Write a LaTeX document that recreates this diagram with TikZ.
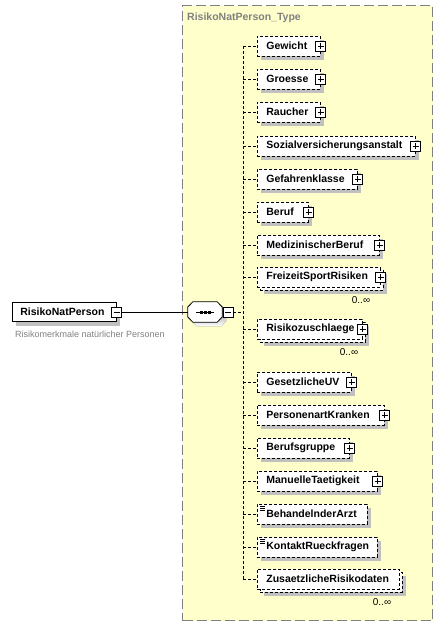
\documentclass[tikz,border=0pt]{standalone}
\usepackage{fontspec}
\setmainfont{Liberation Sans}
\usetikzlibrary{shadows, calc}
\definecolor{typefill}{RGB}{255,255,204}
\definecolor{typeline}{RGB}{128,128,128}
\definecolor{shade}{RGB}{192,192,192}
\definecolor{greytext}{RGB}{128,128,128}

\begin{document}
\begin{tikzpicture}[x=1pt, y=-1pt,
  labelfont/.style={font=\fontsize{10.5}{12}\selectfont\bfseries},
  typebox/.style={draw=typeline, fill=typefill, line width=1.2pt, dash pattern=on 10pt off 4pt, inner sep=0pt, anchor=north west},
  elemtop/.style={draw, line width=0.8pt, dash pattern=on 3pt off 2pt, fill=white, minimum height=20pt, inner xsep=9pt, inner ysep=0pt, anchor=west, labelfont},
  elem/.style={elemtop, drop shadow={shadow xshift=4pt, shadow yshift=-4pt, fill=shade, opacity=1}},
  root/.style={elem, solid, inner xsep=8pt, minimum height=19pt},
  expander/.style={draw, solid, line width=0.8pt, fill=white, minimum size=10pt, inner sep=0pt},
  plus/.style={expander, path picture={
    \draw[line width=0.8pt] ([xshift=2pt]path picture bounding box.west) -- ([xshift=-2pt]path picture bounding box.east);
    \draw[line width=0.8pt] ([yshift=-2pt]path picture bounding box.north) -- ([yshift=2pt]path picture bounding box.south);}},
  minus/.style={expander, path picture={
    \draw[line width=0.8pt] ([xshift=2pt]path picture bounding box.west) -- ([xshift=-2pt]path picture bounding box.east);}},
  compositor/.style={minimum width=34pt, minimum height=20pt, inner sep=0pt},
  conn/.style={line width=0.8pt, dash pattern=on 3pt off 2pt},
  occ/.style={font=\fontsize{10}{11}\selectfont, inner sep=0pt},
  greylabel/.style={text=greytext, anchor=west, inner sep=0pt}]

\useasboundingbox (0,0) rectangle (443,626);

% complex type frame
\node[typebox, minimum width=250pt, minimum height=615pt] (typeframe) at (182,5) {};
\node[greylabel, labelfont] (typetitle) at (187,18) {RisikoNatPerson\_Type};

% root element
\node[root] (root) at (12,312) {\makebox[88pt][l]{RisikoNatPerson}};
\node[minus] (rootminus) at (root.east) {};
\node[greylabel, font=\fontsize{9}{10}\selectfont] (rootdesc) at (15,334) {Risikomerkmale natürlicher Personen};

% sequence
\node[compositor] (seq) at (205,312) {};
\fill[shade] ($(seq.north west)+(9,4)$) -- ($(seq.north east)+(-1,4)$) -- ($(seq.east)+(4,-1)$)
  -- ($(seq.east)+(4,9)$) -- ($(seq.south east)+(-1,4)$) -- ($(seq.south west)+(9,4)$)
  -- ($(seq.west)+(4,9)$) -- ($(seq.west)+(4,-1)$) -- cycle;
\draw[line width=0.8pt, fill=white] ($(seq.north west)+(5,0)$) -- ($(seq.north east)+(-5,0)$) -- ($(seq.east)+(0,-5)$)
  -- ($(seq.east)+(0,5)$) -- ($(seq.south east)+(-5,0)$) -- ($(seq.south west)+(5,0)$)
  -- ($(seq.west)+(0,5)$) -- ($(seq.west)+(0,-5)$) -- cycle;
\draw[line width=0.8pt] ($(seq.center)+(-9,0)$) -- ($(seq.center)+(9,0)$);
\foreach \dx in {-4,0,4}
  \fill ($(seq.center)+(\dx-1.5,-1.5)$) rectangle ($(seq.center)+(\dx+1.5,1.5)$);
\node[minus] (seqminus) at (228,312) {};
\draw[line width=0.8pt] (rootminus.east) -- (seq.west);
\coordinate (spine) at (243,312);
\draw[conn] (seqminus.east) -- (spine);

% children: name/label/y/right edge/plus/occurrence x/icon
\foreach \n/\lbl/\yy/\rr/\pl/\rep/\ic in {
  gewicht/Gewicht/46/320/1/0/0,
  groesse/Groesse/79/320/1/0/0,
  raucher/Raucher/112/320/1/0/0,
  sozial/Sozialversicherungsanstalt/146/415/1/0/0,
  gefahr/Gefahrenklasse/179/357/1/0/0,
  beruf/Beruf/212/308/1/0/0,
  medberuf/MedizinischerBeruf/245/379/1/0/0,
  freizeit/FreizeitSportRisiken/277/380/1/361/0,
  zuschlag/Risikozuschlaege/329/362/1/349/0,
  gesuv/GesetzlicheUV/382/351/1/0/0,
  kranken/PersonenartKranken/415/384/1/0/0,
  gruppe/Berufsgruppe/448/349/1/0/0,
  manuell/ManuelleTaetigkeit/481/377/1/0/0,
  arzt/BehandelnderArzt/514/367/0/0/1,
  kontakt/KontaktRueckfragen/547/377/0/0/1,
  zusatz/ZusaetzlicheRisikodaten/579/399/0/382/0}
{
  \pgfmathsetmacro\bw{\rr-257}
  \pgfmathsetmacro\tw{\rr-257-18}
  \ifnum\rep>0
    \node[elem, minimum width=\bw pt] (\n-back) at (260,\yy+3) {};
    \def\sty{elemtop}
  \else
    \def\sty{elem}
  \fi
  \node[\sty] (\n) at (257,\yy) {\makebox[\tw pt][l]{\lbl}};
  \ifnum\pl=1
    \node[plus] (\n-plus) at (\n.east) {};
  \fi
  \ifnum\ic=1
    \foreach \dy in {2.5,4.5,6.5}
      \draw[line width=0.6pt] ($(\n.north west)+(3,\dy)$) -- ($(\n.north west)+(8,\dy)$);
  \fi
  \ifnum\rep>0
    \node[occ] (\n-occ) at (\rep,\yy+23) {0..∞};
  \fi
  \draw[conn] (spine |- \n.west) -- (\n.west);
}
\draw[conn] (spine |- gewicht.west) -- (spine |- zusatz.west);

\end{tikzpicture}
\end{document}
